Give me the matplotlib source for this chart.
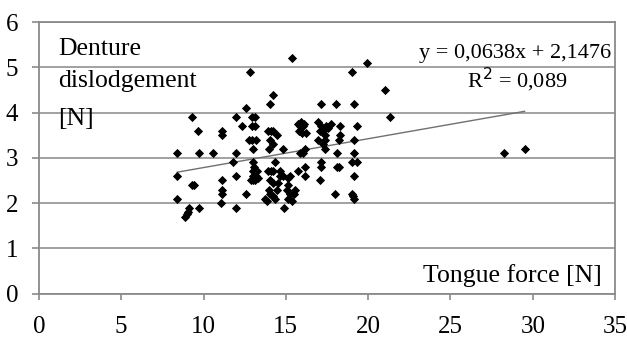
import numpy as np
import matplotlib.pyplot as plt

plt.rcParams['font.family'] = ['Liberation Serif', 'DejaVu Serif']

# tongue force [N] and denture dislodgement [N]
tongue_force = [
    8.4, 8.4, 8.4, 8.9, 9.0, 9.05, 9.1, 9.3, 9.4, 9.3, 9.65, 9.75, 9.7,
    10.6, 11.1, 11.1, 11.1, 11.1, 11.1, 11.05, 11.8, 11.95, 12.0, 12.0, 11.95,
    12.35, 12.6, 12.6, 12.8,
    12.95, 13.1, 12.95, 13.1, 12.75, 12.95, 13.2, 13.0, 13.0, 13.05, 13.0, 13.0,
    12.9, 13.0, 13.15, 13.2, 13.25, 13.3,
    13.9, 14.1, 14.25, 14.45, 14.05, 14.25, 13.95, 14.05, 14.25, 13.9, 14.1, 14.25,
    14.35, 14.05, 14.25, 13.95, 14.05, 14.25, 14.35, 13.75, 13.85, 14.45,
    14.65, 14.65, 14.85, 14.85, 14.55, 15.15, 15.25, 15.15, 15.05, 15.25, 15.15,
    15.35, 15.55, 15.5, 14.9, 15.35,
    15.75, 15.95, 15.85, 16.05, 15.8, 16.0, 16.2, 16.1, 16.15, 16.05, 15.85,
    16.15, 16.15, 15.75,
    16.95, 17.15, 17.05, 17.25, 17.45, 17.4, 17.35, 17.25, 16.95, 17.75, 17.55,
    17.4, 17.15, 17.15, 17.05, 17.15,
    18.05, 18.3, 18.25, 18.1, 18.2, 18.0, 18.1, 18.3,
    19.05, 19.95, 21.05, 21.35, 19.15, 19.3, 19.15, 19.15, 19.0, 19.3, 19.15,
    19.0, 19.15, 19.1, 28.25, 29.5,
]
dislodgement = [
    3.1, 2.6, 2.1, 1.7, 1.75, 1.8, 1.9, 2.4, 2.4, 3.9, 3.6, 3.1, 1.9,
    3.1, 3.6, 3.5, 2.5, 2.3, 2.2, 2.0, 2.9, 3.9, 3.1, 2.6, 1.9,
    3.7, 4.1, 2.2, 4.9,
    3.9, 3.9, 3.7, 3.7, 3.4, 3.4, 3.4, 3.2, 2.9, 2.8, 2.7, 2.6,
    2.5, 2.5, 2.5, 2.6, 2.7, 2.55,
    3.6, 3.6, 3.6, 3.5, 3.4, 3.3, 3.2, 4.2, 4.4, 2.7, 2.7, 2.7,
    2.9, 2.5, 2.45, 2.3, 2.2, 2.15, 2.1, 2.1, 2.05, 2.3,
    2.7, 2.6, 3.2, 2.6, 2.45, 2.55, 2.6, 2.4, 2.3, 2.2, 2.1,
    2.05, 2.3, 2.2, 1.9, 5.2,
    3.75, 3.8, 3.7, 3.7, 3.6, 3.55, 3.55, 3.75, 3.2, 3.1, 3.1,
    2.8, 2.6, 2.7,
    3.8, 3.7, 3.6, 3.6, 3.7, 3.5, 3.4, 3.3, 3.4, 3.75, 3.65,
    3.2, 2.9, 2.8, 2.5, 4.2,
    4.2, 3.7, 3.4, 2.8, 2.8, 2.2, 3.1, 3.5,
    4.9, 5.1, 4.5, 3.9, 4.2, 3.7, 3.4, 3.1, 2.9, 2.9, 2.6,
    2.2, 2.1, 2.15, 3.1, 3.2,
]
slope, intercept = 0.0638, 2.1476
x_ticks = [0, 5, 10, 15, 20, 25, 30, 35]
y_ticks = [0, 1, 2, 3, 4, 5, 6]

W, H = 627, 337
fig = plt.figure(figsize=(W / 100, H / 100), dpi=100)
ax = fig.add_axes([0.062, 0.129, 0.919, 0.805])


def px(x, y):
    # pixel position from top-left -> figure fraction
    return x / W, 1 - y / H


ax.set_xlim(0, 35)
ax.set_ylim(0, 6)
ax.set_xticks(x_ticks)
ax.set_yticks(y_ticks)
ax.grid(axis='y', color='#9a9a9a', linewidth=1.3)
ax.set_axisbelow(True)
for side in ['left', 'right', 'bottom', 'top']:
    ax.spines[side].set_color('#8a8a8a')
    ax.spines[side].set_linewidth(1.3)
ax.tick_params(axis='both', colors='#8a8a8a', labelcolor='black', labelsize=18,
               length=5, width=1.2)
ax.tick_params(axis='x', pad=12, length=4)
ax.tick_params(axis='y', pad=10)

ax.scatter(tongue_force, dislodgement, marker='D', s=22, color='black',
           linewidths=0, zorder=3)

xs = np.array([min(tongue_force), max(tongue_force)])
ax.plot(xs, slope * xs + intercept, color='#707070', linewidth=1.0, zorder=2)

fig.text(*px(58, 55), 'Denture', fontsize=18.5, va='baseline')
fig.text(*px(58, 87), 'dislodgement', fontsize=18.5, va='baseline')
fig.text(*px(58, 125), '[N]', fontsize=18.5, va='baseline')
fig.text(*px(611, 58), 'y = 0,0638x + 2,1476', fontsize=16, ha='right', va='baseline')
fig.text(*px(517, 88), 'R$^2$ = 0,089', fontsize=16, ha='center', va='baseline')
fig.text(*px(602, 282), 'Tongue force [N]', fontsize=18.5, ha='right', va='baseline')

fig.savefig('out.png', dpi=100)
